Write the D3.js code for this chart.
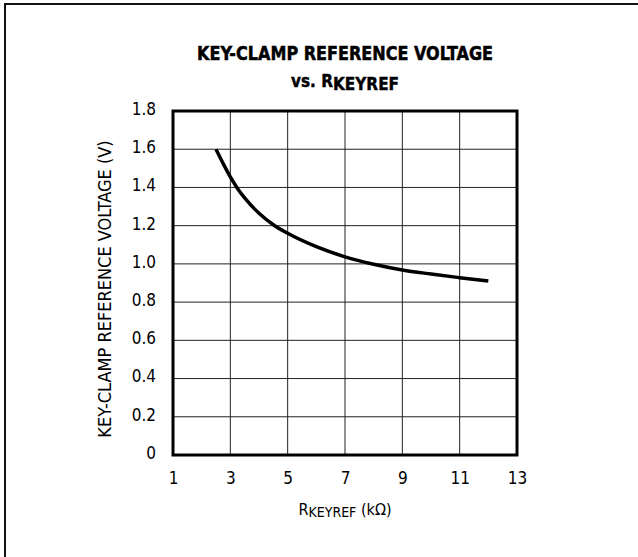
<!DOCTYPE html>
<html>
<head>
<meta charset="utf-8">
<script src="https://cdn.jsdelivr.net/npm/d3@7"></script>
<style>
  body { margin: 0; background: #fff; }
  svg { display: block; }
  text { font-family: "Liberation Sans Narrow", "DejaVu Sans", sans-serif; font-stretch: condensed; fill: #000; }
</style>
</head>
<body>
<script>
// curve: R (kOhm) vs voltage (V)
var rValues = [2.5, 2.75, 3, 3.25, 3.5, 4, 4.5, 5, 6, 7, 8, 9, 10, 11, 12];
var vValues = [1.60, 1.525, 1.455, 1.395, 1.345, 1.265, 1.205, 1.16, 1.09, 1.037, 0.998, 0.968, 0.947, 0.928, 0.91];

var xTicks = [1, 3, 5, 7, 9, 11, 13];
var yTicks = [0, 0.2, 0.4, 0.6, 0.8, 1.0, 1.2, 1.4, 1.6, 1.8];

var w = 638, h = 557;
var pLeft = 173, pRight = 517, pTop = 111, pBottom = 455;

var xScale = d3.scaleLinear().domain([1, 13]).range([pLeft, pRight]);
var yScale = d3.scaleLinear().domain([0, 1.8]).range([pBottom, pTop]);

var svg = d3.select("body").append("svg")
  .attr("width", w)
  .attr("height", h);

// outer frame (runs off the right and bottom edge)
svg.append("rect")
  .attr("x", 5).attr("y", 4)
  .attr("width", 700).attr("height", 700)
  .attr("fill", "none")
  .attr("stroke", "#111")
  .attr("stroke-width", 2);

// title
var title = svg.append("text")
  .attr("text-anchor", "middle")
  .attr("font-weight", "bold");
title.append("tspan")
  .attr("x", 345).attr("y", 60)
  .attr("font-size", "20px")
  .attr("textLength", 296)
  .attr("lengthAdjust", "spacingAndGlyphs")
  .attr("stroke", "#000")
  .attr("stroke-width", 0.5)
  .text("KEY-CLAMP REFERENCE VOLTAGE");
var t2 = title.append("tspan")
  .attr("x", 345).attr("y", 87)
  .attr("font-size", "17px")
  .attr("stroke", "#000")
  .attr("stroke-width", 0.4);
t2.append("tspan").text("vs. R");
t2.append("tspan").attr("dy", 3).text("KEYREF");

// grid
var grid = svg.append("g")
  .attr("stroke", "#222")
  .attr("stroke-width", 1);

grid.selectAll(".gx")
  .data(xTicks.slice(1, -1))
  .enter()
  .append("line")
  .attr("x1", function(d) { return xScale(d); })
  .attr("x2", function(d) { return xScale(d); })
  .attr("y1", pTop)
  .attr("y2", pBottom);

grid.selectAll(".gy")
  .data(yTicks.slice(1, -1))
  .enter()
  .append("line")
  .attr("x1", pLeft)
  .attr("x2", pRight)
  .attr("y1", function(d) { return yScale(d); })
  .attr("y2", function(d) { return yScale(d); });

// axes, labels only
var xAxis = d3.axisBottom(xScale)
  .tickValues(xTicks)
  .tickSize(0)
  .tickPadding(17)
  .tickFormat(d3.format("d"));
var yAxis = d3.axisLeft(yScale)
  .tickValues(yTicks)
  .tickSize(0)
  .tickPadding(17)
  .tickFormat(function(d) { return d === 0 ? "0" : d3.format(".1f")(d); });

svg.append("g")
  .attr("transform", "translate(0," + pBottom + ")")
  .call(xAxis)
  .call(function(g) { g.select(".domain").remove(); })
  .selectAll("text")
  .attr("font-size", "17px")
  .attr("font-family", null);

svg.append("g")
  .attr("transform", "translate(" + pLeft + ",0)")
  .call(yAxis)
  .call(function(g) { g.select(".domain").remove(); })
  .selectAll("text")
  .attr("font-size", "17px")
  .attr("dy", "0.2em")
  .attr("font-family", null);

// plot border
svg.append("rect")
  .attr("x", pLeft).attr("y", pTop)
  .attr("width", pRight - pLeft).attr("height", pBottom - pTop)
  .attr("fill", "none")
  .attr("stroke", "#000")
  .attr("stroke-width", 3);

// curve
var line = d3.line()
  .x(function(d, i) { return xScale(rValues[i]); })
  .y(function(d) { return yScale(d); })
  .curve(d3.curveMonotoneX);

svg.append("path")
  .datum(vValues)
  .attr("d", line)
  .attr("fill", "none")
  .attr("stroke", "#000")
  .attr("stroke-width", 3.5);

// axis titles
var xt = svg.append("text")
  .attr("x", 345).attr("y", 515)
  .attr("text-anchor", "middle")
  .attr("font-size", "16px");
xt.append("tspan").text("R");
xt.append("tspan").attr("dy", 2).attr("font-size", "14px").text("KEYREF");
xt.append("tspan").attr("dy", -2).text(" (k\u03A9)");

svg.append("text")
  .attr("transform", "translate(111,289) rotate(-90)")
  .attr("text-anchor", "middle")
  .attr("font-size", "18px")
  .text("KEY-CLAMP REFERENCE VOLTAGE (V)");
</script>
</body>
</html>
